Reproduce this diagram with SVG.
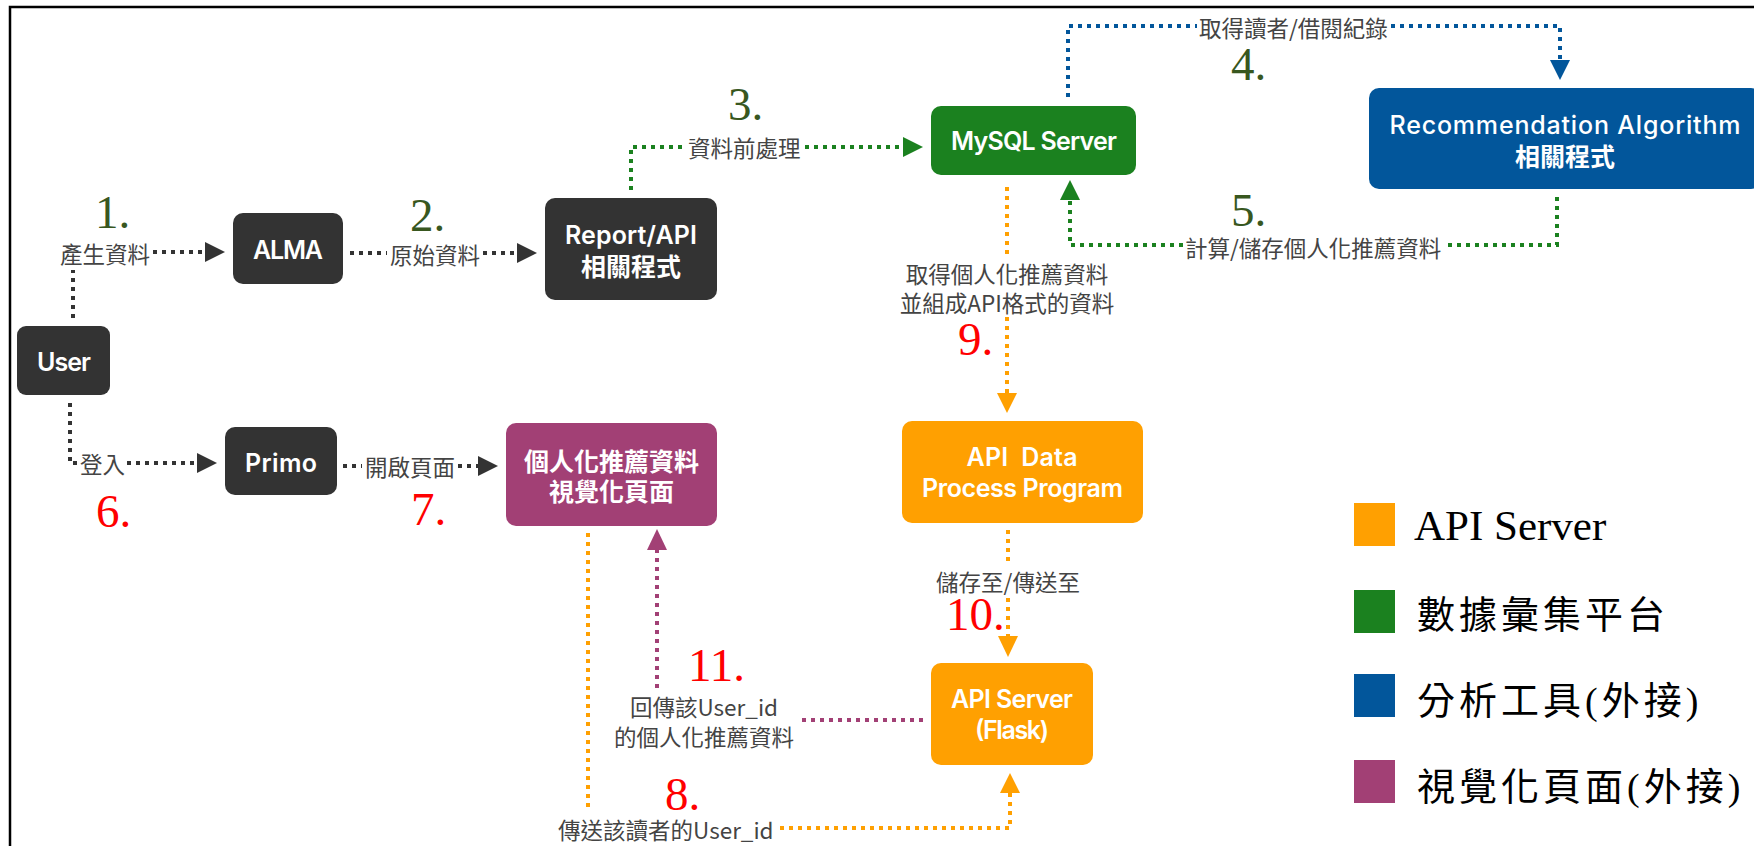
<svg xmlns="http://www.w3.org/2000/svg" width="1754" height="846" viewBox="0 0 1754 846">
<style>
.nt{font-family:Inter,"Noto Sans CJK TC",sans-serif;font-weight:600;font-size:25px;fill:#fff;text-anchor:middle;dominant-baseline:central}
.ntc{font-family:"Noto Sans CJK TC",sans-serif;font-weight:700;font-size:25px;fill:#fff;text-anchor:middle;dominant-baseline:central}
.lbl{font-family:"Noto Sans CJK TC",sans-serif;font-size:22.5px;fill:#444;dominant-baseline:central}
.mid{text-anchor:middle}
.num{font-family:"Liberation Serif",serif;font-size:47px}
.g{fill:#38571f}.r{fill:#ff0000}
.c{fill:none;stroke-width:4;stroke-dasharray:4 5}
.dk{stroke:#333}.gr{stroke:#1b811f}.bl{stroke:#02569b}.or{stroke:#ffa001}.pk{stroke:#a24075}
.leg{font-family:"Liberation Serif","Noto Sans CJK TC",serif;font-size:38px;fill:#000}
</style>
<rect width="1754" height="846" fill="#fff"/>
<path d="M10,846 V7 H1754" fill="none" stroke="#000" stroke-width="2.5"/>

<g id="connectors">
  <path class="c dk" d="M73,318 V270 M153,252 H205"/>
  <polygon fill="#333" points="205,242 225,252 205,262"/>
  <path class="c dk" d="M350,253 H387 M483,253 H517"/>
  <polygon fill="#333" points="517,243 537,253 517,263"/>
  <path class="c gr" d="M631,190 V147 H686 M805,147 H903"/>
  <polygon fill="#1b811f" points="903,137 923,147 903,157"/>
  <path class="c bl" d="M1068,97 V26 H1197 M1391,26 H1560 V60"/>
  <polygon fill="#02569b" points="1550,60 1560,80 1570,60"/>
  <path class="c gr" d="M1557,197 V245 H1446 M1183,245 H1070 V200"/>
  <polygon fill="#1b811f" points="1060,200 1070,180 1080,200"/>
  <path class="c dk" d="M70,403 V463 H78 M127,463 H197"/>
  <polygon fill="#333" points="197,453 217,463 197,473"/>
  <path class="c dk" d="M343,466 H362 M458,466 H478"/>
  <polygon fill="#333" points="478,456 498,466 478,476"/>
  <path class="c or" d="M588,533 V810 M780,828 H1010 V793"/>
  <polygon fill="#ffa001" points="1000,793 1010,773 1020,793"/>
  <path class="c or" d="M1007,187 V257 M1007,317 V393"/>
  <polygon fill="#ffa001" points="997,393 1007,413 1017,393"/>
  <path class="c or" d="M1008,530 V565 M1008,598 V636"/>
  <polygon fill="#ffa001" points="998,636 1008,657 1018,636"/>
  <path class="c pk" d="M923,720 H802 M657,688 V550"/>
  <polygon fill="#a24075" points="647,550 657,529 667,550"/>

  <text class="lbl" x="60" y="253">產生資料</text>
  <text class="lbl" x="390" y="254">原始資料</text>
  <text class="lbl" x="688" y="147">資料前處理</text>
  <text class="lbl" x="1199" y="27">取得讀者/借閱紀錄</text>
  <text class="lbl" x="1185" y="247">計算/儲存個人化推薦資料</text>
  <text class="lbl" x="80" y="463">登入</text>
  <text class="lbl" x="365" y="466">開啟頁面</text>
  <text class="lbl" x="558" y="829">傳送該讀者的User_id</text>
  <text class="lbl mid" x="1007" y="273">取得個人化推薦資料</text>
  <text class="lbl mid" x="1007" y="302">並組成API格式的資料</text>
  <text class="lbl mid" x="1008" y="581">儲存至/傳送至</text>
  <text class="lbl mid" x="704" y="706">回傳該User_id</text>
  <text class="lbl mid" x="704" y="736">的個人化推薦資料</text>

  <text class="num g" x="95" y="228">1.</text>
  <text class="num g" x="410" y="231">2.</text>
  <text class="num g" x="728" y="120">3.</text>
  <text class="num g" x="1231" y="80">4.</text>
  <text class="num g" x="1231" y="226">5.</text>
  <text class="num r" x="96" y="527">6.</text>
  <text class="num r" x="411" y="525">7.</text>
  <text class="num r" x="665" y="810">8.</text>
  <text class="num r" x="958" y="355">9.</text>
  <text class="num r" x="946" y="630">10.</text>
  <text class="num r" x="688" y="681">11.</text>
</g>

<g id="node-user">
  <rect x="17" y="326" width="93" height="69" rx="9" fill="#333"/>
  <text class="nt" x="64" y="362" textLength="54">User</text>
</g>
<g id="node-alma">
  <rect x="233" y="213" width="110" height="71" rx="10" fill="#333"/>
  <text class="nt" x="288" y="250" textLength="70">ALMA</text>
</g>
<g id="node-report">
  <rect x="545" y="198" width="172" height="102" rx="10" fill="#333"/>
  <text class="nt" x="631" y="235" textLength="132">Report/API</text>
  <text class="ntc" x="631" y="265">相關程式</text>
</g>
<g id="node-mysql">
  <rect x="931" y="106" width="205" height="69" rx="10" fill="#1b811f"/>
  <text class="nt" x="1034" y="141" textLength="166">MySQL Server</text>
</g>
<g id="node-recommendation">
  <rect x="1369" y="88" width="392" height="101" rx="10" fill="#02569b"/>
  <text class="nt" x="1565" y="125" textLength="351" style="font-weight:500">Recommendation Algorithm</text>
  <text class="ntc" x="1565" y="155">相關程式</text>
</g>
<g id="node-primo">
  <rect x="225" y="427" width="112" height="68" rx="10" fill="#333"/>
  <text class="nt" x="281" y="463" textLength="72">Primo</text>
</g>
<g id="node-visual">
  <rect x="506" y="423" width="211" height="103" rx="10" fill="#a24075"/>
  <text class="ntc" x="611.5" y="460">個人化推薦資料</text>
  <text class="ntc" x="611.5" y="490">視覺化頁面</text>
</g>
<g id="node-apidata">
  <rect x="902" y="421" width="241" height="102" rx="10" fill="#ffa001"/>
  <text class="nt" x="1022" y="457" textLength="111" xml:space="preserve">API  Data</text>
  <text class="nt" x="1022.5" y="488" textLength="201">Process Program</text>
</g>
<g id="node-apiserver">
  <rect x="931" y="663" width="162" height="102" rx="10" fill="#ffa001"/>
  <text class="nt" x="1012" y="699" textLength="122">API Server</text>
  <text class="nt" x="1012" y="730" textLength="74">(Flask)</text>
</g>

<g id="legend">
  <rect x="1354" y="503" width="41" height="43" fill="#ffa001"/>
  <text class="leg" x="1414" y="540" style="font-size:43px">API Server</text>
  <rect x="1354" y="590" width="41" height="43" fill="#1b811f"/>
  <text class="leg" x="1417" y="628" letter-spacing="4">數據彙集平台</text>
  <rect x="1354" y="674" width="41" height="43" fill="#02569b"/>
  <text class="leg" x="1417" y="714" letter-spacing="4">分析工具(外接)</text>
  <rect x="1354" y="760" width="41" height="43" fill="#a24075"/>
  <text class="leg" x="1417" y="800" letter-spacing="4">視覺化頁面(外接)</text>
</g>
</svg>
